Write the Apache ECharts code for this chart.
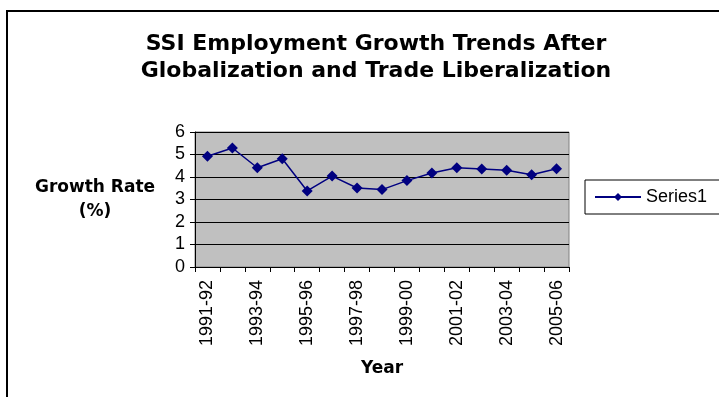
<!DOCTYPE html>
<html>
<head>
<meta charset="utf-8">
<script src="https://cdn.jsdelivr.net/npm/echarts@6/dist/echarts.min.js"></script>
<style>
  html, body { margin: 0; padding: 0; background: #fff; }
  #chart { width: 719px; height: 397px; }
</style>
</head>
<body>
<div id="chart"></div>
<script>
const years = ['1991-92', '1992-93', '1993-94', '1994-95', '1995-96', '1996-97', '1997-98', '1998-99',
  '1999-00', '2000-01', '2001-02', '2002-03', '2003-04', '2004-05', '2005-06'];
const growthRate = [4.92, 5.29, 4.41, 4.81, 3.38, 4.04, 3.51, 3.44, 3.84, 4.18, 4.41, 4.36, 4.30, 4.10, 4.37];

const font = '"Liberation Sans", Arial, sans-serif';
const boldFont = '"DejaVu Sans", sans-serif';
const chart = echarts.init(document.getElementById('chart'));

const option = {
  animation: false,
  textStyle: {fontFamily: font},
  graphic: [
    {
      type: 'polyline',
      shape: {points: [[7, 400], [7, 11], [725, 11]]},
      style: {stroke: '#000', lineWidth: 2, fill: null}
    }
  ],
  title: {
    text: 'SSI Employment Growth Trends After\nGlobalization and Trade Liberalization',
    left: 371,
    top: 26,
    textAlign: 'center',
    textStyle: {
      fontFamily: boldFont,
      fontSize: 22,
      fontWeight: 'bold',
      color: '#000',
      lineHeight: 27
    }
  },
  legend: {
    left: 585,
    top: 180,
    padding: [8, 30, 8, 9],
    borderColor: '#000',
    borderWidth: 1,
    borderRadius: 0,
    itemWidth: 46,
    itemHeight: 10,
    itemGap: 4,
    textStyle: {fontFamily: font, fontSize: 18, color: '#000'},
    data: ['Series1']
  },
  grid: {
    left: 195,
    right: 150,
    top: 132,
    bottom: 130,
    show: true,
    backgroundColor: '#c0c0c0',
    borderColor: '#808080',
    borderWidth: 1
  },
  xAxis: {
    type: 'category',
    data: years,
    boundaryGap: true,
    name: 'Year',
    nameLocation: 'middle',
    nameGap: 93,
    nameTextStyle: {fontFamily: boldFont, fontSize: 17, fontWeight: 'bold', color: '#000'},
    axisLine: {lineStyle: {color: '#000', width: 1}},
    axisTick: {show: true, interval: 0, length: 5, lineStyle: {color: '#000'}},
    axisLabel: {
      interval: 1,
      rotate: 90,
      margin: 13,
      fontFamily: font,
      fontSize: 18,
      color: '#000'
    }
  },
  yAxis: {
    type: 'value',
    min: 0,
    max: 6,
    interval: 1,
    name: 'Growth Rate\n(%)',
    nameLocation: 'middle',
    nameRotate: 0,
    nameGap: 100,
    nameTextStyle: {
      fontFamily: boldFont,
      fontSize: 17,
      fontWeight: 'bold',
      color: '#000',
      align: 'center',
      lineHeight: 24,
      padding: [0, 0, 2, 0]
    },
    axisLine: {show: true, lineStyle: {color: '#000', width: 1}},
    axisTick: {show: true, length: 5, lineStyle: {color: '#000'}},
    axisLabel: {margin: 10, fontFamily: font, fontSize: 18, color: '#000'},
    splitLine: {lineStyle: {color: '#000', width: 1}}
  },
  series: [
    {
      name: 'Series1',
      type: 'line',
      data: growthRate,
      symbol: 'diamond',
      symbolSize: 11,
      color: '#000080',
      lineStyle: {color: '#000080', width: 1.5},
      itemStyle: {color: '#000080'}
    }
  ]
};

chart.setOption(option);
</script>
</body>
</html>
